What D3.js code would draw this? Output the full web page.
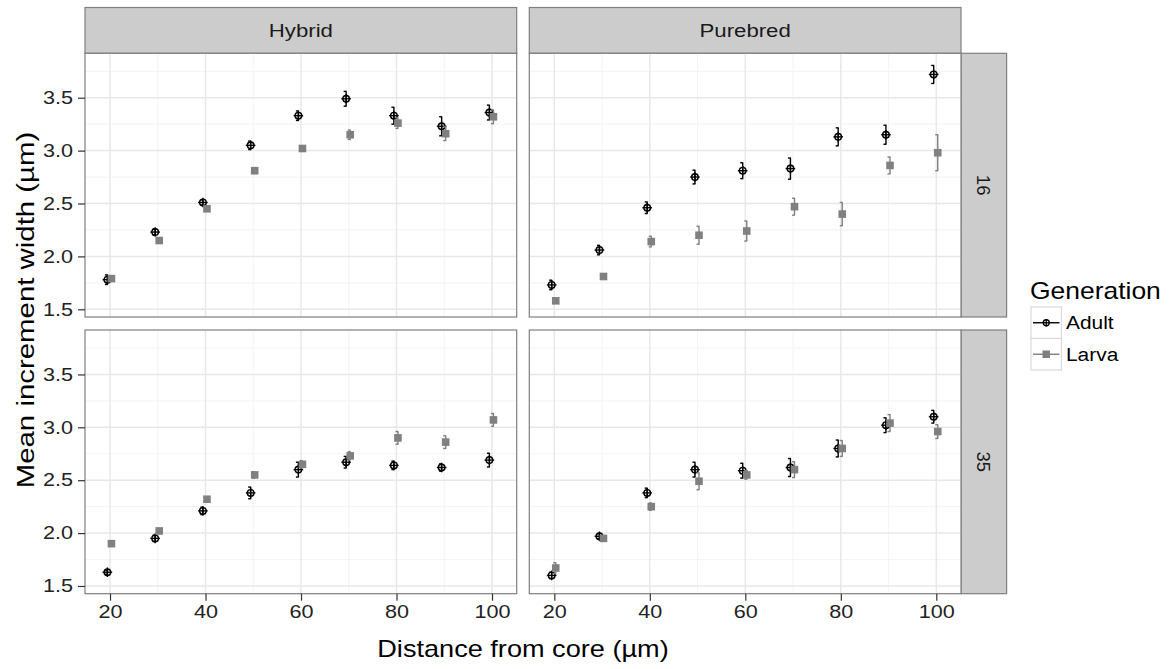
<!DOCTYPE html>
<html>
<head>
<meta charset="utf-8">
<script src="https://cdn.jsdelivr.net/npm/d3@7"></script>
<style>
  body { margin: 0; background: #fff; }
  text { font-family: "Liberation Sans", Arial, sans-serif; }
  .wide { transform-box: fill-box; }
</style>
</head>
<body>
<svg id="chart" width="1171" height="669"></svg>
<script>
// distances from core, facets and groups
var distances = [20, 30, 40, 50, 60, 70, 80, 90, 100];
var types = ["Hybrid", "Purebred"];
var temps = ["16", "35"];
var generations = ["Adult", "Larva"];
var xTicks = [20, 40, 60, 80, 100];
var yTicks = [1.5, 2.0, 2.5, 3.0, 3.5];

// means and standard errors
var hybrid16Adult = [1.78, 2.23, 2.51, 3.05, 3.33, 3.49, 3.33, 3.23, 3.36];
var hybrid16AdultSe = [0.045, 0.03, 0.025, 0.04, 0.045, 0.07, 0.08, 0.09, 0.07];
var hybrid16Larva = [1.79, 2.15, 2.45, 2.81, 3.02, 3.15, 3.26, 3.16, 3.32];
var hybrid16LarvaSe = [0.02, 0.02, 0.02, 0.025, 0.025, 0.045, 0.05, 0.065, 0.065];

var purebred16Adult = [1.73, 2.06, 2.46, 2.75, 2.81, 2.83, 3.13, 3.15, 3.72];
var purebred16AdultSe = [0.045, 0.045, 0.055, 0.065, 0.075, 0.1, 0.085, 0.09, 0.085];
var purebred16Larva = [1.58, 1.81, 2.14, 2.20, 2.24, 2.47, 2.40, 2.86, 2.98];
var purebred16LarvaSe = [0.02, 0.02, 0.05, 0.085, 0.095, 0.08, 0.11, 0.08, 0.17];

var hybrid35Adult = [1.63, 1.95, 2.21, 2.38, 2.60, 2.67, 2.64, 2.62, 2.69];
var hybrid35AdultSe = [0.02, 0.03, 0.035, 0.055, 0.07, 0.055, 0.04, 0.035, 0.065];
var hybrid35Larva = [1.90, 2.02, 2.32, 2.55, 2.65, 2.73, 2.90, 2.86, 3.07];
var hybrid35LarvaSe = [0.025, 0.025, 0.02, 0.03, 0.035, 0.04, 0.06, 0.06, 0.06];

var purebred35Adult = [1.60, 1.97, 2.38, 2.60, 2.59, 2.62, 2.80, 3.02, 3.10];
var purebred35AdultSe = [0.03, 0.025, 0.045, 0.07, 0.07, 0.085, 0.08, 0.07, 0.06];
var purebred35Larva = [1.67, 1.95, 2.25, 2.49, 2.55, 2.60, 2.80, 3.04, 2.96];
var purebred35LarvaSe = [0.05, 0.025, 0.035, 0.08, 0.04, 0.075, 0.075, 0.08, 0.065];

var panels = [
    {type: "Hybrid", temp: "16", Adult: hybrid16Adult, AdultSe: hybrid16AdultSe, Larva: hybrid16Larva, LarvaSe: hybrid16LarvaSe},
    {type: "Purebred", temp: "16", Adult: purebred16Adult, AdultSe: purebred16AdultSe, Larva: purebred16Larva, LarvaSe: purebred16LarvaSe},
    {type: "Hybrid", temp: "35", Adult: hybrid35Adult, AdultSe: hybrid35AdultSe, Larva: hybrid35Larva, LarvaSe: hybrid35LarvaSe},
    {type: "Purebred", temp: "35", Adult: purebred35Adult, AdultSe: purebred35AdultSe, Larva: purebred35Larva, LarvaSe: purebred35LarvaSe}
];

var svg = d3.select("#chart");

var panelX = [85, 529.3],
    panelY = [53.3, 330],
    panelW = 431.7,
    panelH = 263.7,
    stripTop = 7.5,
    stripW = 45.6;

var dodge = {Adult: -0.55, Larva: 0.3};
var colour = {Adult: "#000000", Larva: "#808080"};

var x = d3.scaleLinear().domain([14.76, 105.17]).range([0, panelW]);
var y = d3.scaleLinear().domain([1.427, 3.92]).range([panelH, 0]);

var xMinor = [30, 50, 70, 90];
var yMinor = [1.75, 2.25, 2.75, 3.25, 3.75];

// the reference text is drawn a bit wider than Liberation Sans
function widen(sel, k, origin) {
    sel.classed("wide", true)
        .style("transform-origin", origin)
        .style("transform", "scaleX(" + k + ")");
}

// column strips
types.forEach(function(t, i) {
    var g = svg.append("g").attr("transform", "translate(" + panelX[i] + "," + stripTop + ")");
    g.append("rect").attr("width", panelW).attr("height", panelY[0] - stripTop)
        .attr("fill", "#cccccc").attr("stroke", "#7f7f7f").attr("stroke-width", 1.2);
    g.append("text").attr("x", panelW / 2).attr("y", (panelY[0] - stripTop) / 2 + 7)
        .attr("text-anchor", "middle").attr("font-size", 18.5).attr("fill", "#1a1a1a").text(t)
        .call(widen, 1.2, "center");
});

// row strips
temps.forEach(function(t, j) {
    var g = svg.append("g").attr("transform", "translate(" + (panelX[1] + panelW) + "," + panelY[j] + ")");
    g.append("rect").attr("width", stripW).attr("height", panelH)
        .attr("fill", "#cccccc").attr("stroke", "#7f7f7f").attr("stroke-width", 1.2);
    g.append("text").attr("transform", "translate(" + (stripW / 2 - 7) + "," + (panelH / 2) + ") rotate(90)")
        .attr("text-anchor", "middle").attr("font-size", 18.5).attr("fill", "#1a1a1a").text(t);
});

panels.forEach(function(p) {
    var col = types.indexOf(p.type), row = temps.indexOf(p.temp);
    var g = svg.append("g").attr("transform", "translate(" + panelX[col] + "," + panelY[row] + ")");

    g.append("rect").attr("width", panelW).attr("height", panelH).attr("fill", "#fff");

    g.selectAll("line.xminor").data(xMinor).enter().append("line")
        .attr("x1", x).attr("x2", x).attr("y1", 0).attr("y2", panelH)
        .attr("stroke", "#f5f5f5").attr("stroke-width", 1.2);
    g.selectAll("line.yminor").data(yMinor).enter().append("line")
        .attr("y1", y).attr("y2", y).attr("x1", 0).attr("x2", panelW)
        .attr("stroke", "#f5f5f5").attr("stroke-width", 1.2);
    g.selectAll("line.xmajor").data(xTicks).enter().append("line")
        .attr("x1", x).attr("x2", x).attr("y1", 0).attr("y2", panelH)
        .attr("stroke", "#e8e8e8").attr("stroke-width", 1.5);
    g.selectAll("line.ymajor").data(yTicks).enter().append("line")
        .attr("y1", y).attr("y2", y).attr("x1", 0).attr("x2", panelW)
        .attr("stroke", "#e8e8e8").attr("stroke-width", 1.5);

    generations.forEach(function(gen) {
        var pts = distances.map(function(d, i) {
            return {x: d + dodge[gen], m: p[gen][i], se: p[gen + "Se"][i]};
        });
        var eg = g.append("g");
        var bars = eg.selectAll("g.bar").data(pts).enter().append("g")
            .attr("stroke", colour[gen]).attr("stroke-width", 1.4);
        bars.append("line")
            .attr("x1", function(d) { return x(d.x); })
            .attr("x2", function(d) { return x(d.x); })
            .attr("y1", function(d) { return y(d.m - d.se); })
            .attr("y2", function(d) { return y(d.m + d.se); });
        [-1, 1].forEach(function(s) {
            bars.append("line")
                .attr("x1", function(d) { return x(d.x) - 2.5; })
                .attr("x2", function(d) { return x(d.x) + 0.5; })
                .attr("y1", function(d) { return y(d.m + s * d.se); })
                .attr("y2", function(d) { return y(d.m + s * d.se); });
        });

        if (gen === "Adult") {
            var mk = eg.selectAll("g.pt").data(pts).enter().append("g")
                .attr("transform", function(d) { return "translate(" + x(d.x) + "," + y(d.m) + ")"; })
                .attr("stroke", "#000").attr("stroke-width", 1.4).attr("fill", "none");
            mk.append("circle").attr("r", 3.3);
            mk.append("line").attr("x1", -4.8).attr("x2", 4.8);
            mk.append("line").attr("y1", -4.8).attr("y2", 4.8);
        } else {
            eg.selectAll("rect.pt").data(pts).enter().append("rect")
                .attr("x", function(d) { return x(d.x) - 3.8; })
                .attr("y", function(d) { return y(d.m) - 3.8; })
                .attr("width", 7.6).attr("height", 7.6)
                .attr("fill", colour[gen]);
        }
    });

    g.append("rect").attr("width", panelW).attr("height", panelH)
        .attr("fill", "none").attr("stroke", "#7f7f7f").attr("stroke-width", 1.2);

    if (col === 0) {
        var ya = g.append("g").call(d3.axisLeft(y).tickValues(yTicks).tickSize(7).tickPadding(5).tickFormat(d3.format(".1f")));
        ya.select(".domain").remove();
        ya.selectAll(".tick line").attr("stroke", "#333").attr("stroke-width", 1.2);
        ya.selectAll(".tick text").attr("font-size", 18).attr("fill", "#222")
            .attr("font-family", "'Liberation Sans', Arial, sans-serif")
            .call(widen, 1.2, "right center");
    }
    if (row === 1) {
        var xa = g.append("g").attr("transform", "translate(0," + panelH + ")")
            .call(d3.axisBottom(x).tickValues(xTicks).tickSize(7).tickPadding(5));
        xa.select(".domain").remove();
        xa.selectAll(".tick line").attr("stroke", "#333").attr("stroke-width", 1.2);
        xa.selectAll(".tick text").attr("font-size", 18).attr("fill", "#222")
            .attr("font-family", "'Liberation Sans', Arial, sans-serif")
            .call(widen, 1.2, "center");
    }
});

// axis titles
svg.append("text").attr("x", panelX[0] + (panelX[1] + panelW - panelX[0]) / 2).attr("y", 657)
    .attr("text-anchor", "middle").attr("font-size", 23).attr("fill", "#000")
    .text("Distance from core (µm)")
    .call(widen, 1.18, "center");
svg.append("g").attr("transform", "translate(34,310) rotate(-90)")
    .append("text").attr("text-anchor", "middle").attr("font-size", 24.5).attr("fill", "#000")
    .text("Mean increment width (µm)")
    .call(widen, 1.2, "center");

// legend
var leg = svg.append("g").attr("transform", "translate(1031,0)");
leg.append("text").attr("x", -1).attr("y", 299).attr("font-size", 23).attr("fill", "#000").text("Generation")
    .call(widen, 1.15, "left center");
generations.forEach(function(gen, i) {
    var ky = 307 + i * 31.5;
    var k = leg.append("g").attr("transform", "translate(0," + ky + ")");
    k.append("rect").attr("width", 30.5).attr("height", 31.5).attr("fill", "#fff")
        .attr("stroke", "#d9d9d9").attr("stroke-width", 1.2);
    k.append("line").attr("x1", 2).attr("x2", 28.5).attr("y1", 15.75).attr("y2", 15.75)
        .attr("stroke", colour[gen]).attr("stroke-width", 1.4);
    if (gen === "Adult") {
        k.append("line").attr("x1", 15.25).attr("x2", 15.25).attr("y1", 12).attr("y2", 19.5)
            .attr("stroke", "#000").attr("stroke-width", 1.3);
        k.append("circle").attr("cx", 15.25).attr("cy", 15.75).attr("r", 3)
            .attr("fill", "none").attr("stroke", "#000").attr("stroke-width", 1.3);
    } else {
        k.append("rect").attr("x", 11.5).attr("y", 12).attr("width", 7.5).attr("height", 7.5)
            .attr("fill", colour[gen]);
    }
    k.append("text").attr("x", 35).attr("y", 22.5).attr("font-size", 19).attr("fill", "#000").text(gen)
        .call(widen, 1.1, "left center");
});
</script>
</body>
</html>
